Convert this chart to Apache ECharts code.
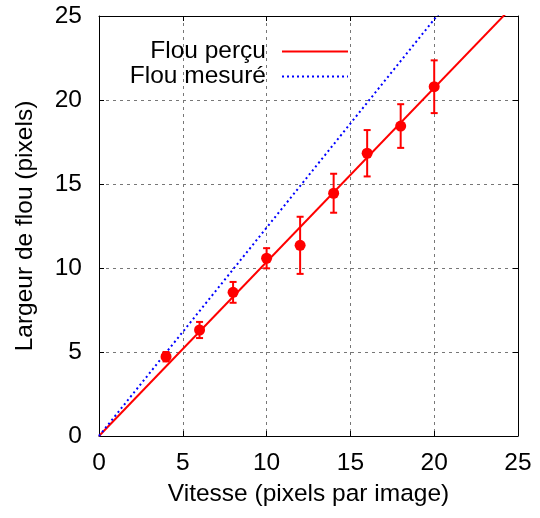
<!DOCTYPE html>
<html>
<head>
<meta charset="utf-8">
<script src="https://cdn.jsdelivr.net/npm/echarts@6/dist/echarts.min.js"></script>
<style>
html,body{margin:0;padding:0;background:#fff;}
#chart{width:540px;height:518px;}
</style>
</head>
<body>
<div id="chart"></div>
<script>
// Data
const speeds = [4, 6, 8, 10, 12, 14, 16, 18, 20];
const blurMean = [4.72, 6.31, 8.55, 10.58, 11.35, 14.45, 16.83, 18.45, 20.79];
const blurErr = [0.28, 0.48, 0.62, 0.60, 1.70, 1.16, 1.38, 1.30, 1.57];
const lineX = [0, 25];
const perceivedY = [0, 25.9];
const measuredY = [0, 31.0];
const xTicks = [0, 5, 10, 15, 20, 25];
const yTicks = [0, 5, 10, 15, 20, 25];
const seriesNames = ['Flou perçu', 'Flou mesuré'];
const xTitle = 'Vitesse (pixels par image)';
const yTitle = 'Largeur de flou (pixels)';

const FONT = 'Liberation Sans, Arial, sans-serif';
const FS = 24.5;
const chart = echarts.init(document.getElementById('chart'), null, {renderer: 'canvas'});

const pointData = speeds.map((s, i) => [s, blurMean[i], blurErr[i]]);
const axisCommon = {
  min: 0, max: 25, interval: 5,
  axisLine: {show: true, onZero: false, lineStyle: {color: '#000', width: 1}},
  axisTick: {show: true, inside: true, length: 5, lineStyle: {color: '#000', width: 1}},
};

chart.setOption({
  animation: false,
  backgroundColor: '#fff',
  grid: {left: 99, right: 22, top: 16, bottom: 82, containLabel: false},
  legend: {
    orient: 'vertical',
    align: 'right',
    right: 191,
    top: 39,
    padding: 0,
    itemGap: 0,
    itemWidth: 66,
    itemHeight: 14,
    data: seriesNames,
    itemStyle: {opacity: 0},
    textStyle: {fontSize: FS, fontFamily: FONT, color: '#000', lineHeight: 24, padding: [0, 11, 0, 0]}
  },
  xAxis: [
    Object.assign({}, axisCommon, {
      type: 'value', position: 'bottom',
      name: xTitle, nameLocation: 'middle', nameGap: 46,
      nameTextStyle: {fontSize: FS, fontFamily: FONT, color: '#000'},
      axisLabel: {fontSize: FS, fontFamily: FONT, color: '#000', margin: 15,
        formatter: v => xTicks.includes(v) ? String(v) : ''},
      splitLine: {show: true, lineStyle: {color: '#777', width: 1, type: [3, 4]}}
    }),
    Object.assign({}, axisCommon, {
      type: 'value', position: 'top', axisLabel: {show: false}, splitLine: {show: false}
    })
  ],
  yAxis: [
    Object.assign({}, axisCommon, {
      type: 'value', position: 'left',
      name: yTitle, nameLocation: 'middle', nameGap: 61,
      nameTextStyle: {fontSize: FS, fontFamily: FONT, color: '#000'},
      axisLabel: {fontSize: FS, fontFamily: FONT, color: '#000', margin: 17,
        formatter: v => yTicks.includes(v) ? String(v) : ''},
      splitLine: {show: true, lineStyle: {color: '#777', width: 1, type: [3, 4]}}
    }),
    Object.assign({}, axisCommon, {
      type: 'value', position: 'right', axisLabel: {show: false}, splitLine: {show: false}
    })
  ],
  series: [
    {
      name: seriesNames[0], type: 'line', xAxisIndex: 0, yAxisIndex: 0,
      data: lineX.map((x, i) => [x, perceivedY[i]]),
      symbol: 'none', clip: true, z: 3,
      lineStyle: {color: '#ff0000', width: 2, type: 'solid'},
      itemStyle: {color: '#ff0000'}
    },
    {
      name: seriesNames[1], type: 'line', xAxisIndex: 0, yAxisIndex: 0,
      data: lineX.map((x, i) => [x, measuredY[i]]),
      symbol: 'none', clip: true, z: 3,
      lineStyle: {color: '#0000ff', width: 2, type: [2, 3]},
      itemStyle: {color: '#0000ff'}
    },
    {
      name: 'errors', type: 'custom', xAxisIndex: 0, yAxisIndex: 0, z: 4,
      data: pointData,
      renderItem: function (params, api) {
        const x = api.value(0), y = api.value(1), e = api.value(2);
        const top = api.coord([x, y + e]);
        const bot = api.coord([x, y - e]);
        const hw = 3.5;
        const st = {stroke: '#ff0000', lineWidth: 2};
        return {
          type: 'group',
          children: [
            {type: 'line', shape: {x1: top[0], y1: top[1], x2: bot[0], y2: bot[1]}, style: st},
            {type: 'line', shape: {x1: top[0] - hw, y1: top[1], x2: top[0] + hw, y2: top[1]}, style: st},
            {type: 'line', shape: {x1: bot[0] - hw, y1: bot[1], x2: bot[0] + hw, y2: bot[1]}, style: st}
          ]
        };
      }
    },
    {
      name: 'points', type: 'scatter', xAxisIndex: 0, yAxisIndex: 0, z: 5,
      data: pointData.map(p => [p[0], p[1]]),
      symbol: 'circle', symbolSize: 11,
      itemStyle: {color: '#ff0000', opacity: 1}
    }
  ]
});
</script>
</body>
</html>
